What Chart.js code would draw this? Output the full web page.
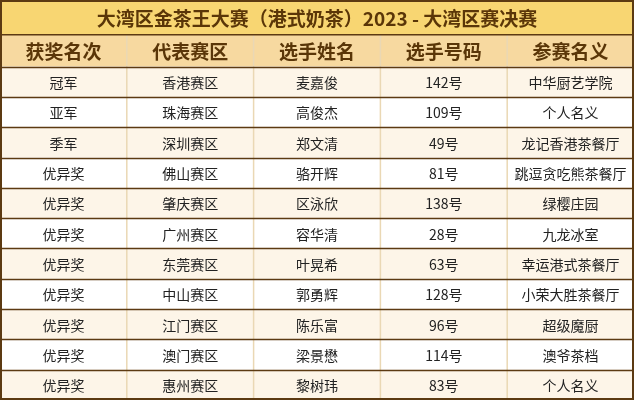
<!DOCTYPE html>
<html>
<head>
<meta charset="utf-8">
<script src="https://cdn.jsdelivr.net/npm/chart.js@4"></script>
<style>body{margin:0;background:#fff}</style>
</head>
<body>
<canvas id="c" width="634" height="400"></canvas>
<script>
const title = '大湾区金茶王大赛（港式奶茶）2023 - 大湾区赛决赛';
const headers = ['获奖名次', '代表赛区', '选手姓名', '选手号码', '参赛名义'];
const ranks = ['冠军','亚军','季军','优异奖','优异奖','优异奖','优异奖','优异奖','优异奖','优异奖','优异奖'];
const regions = ['香港赛区','珠海赛区','深圳赛区','佛山赛区','肇庆赛区','广州赛区','东莞赛区','中山赛区','江门赛区','澳门赛区','惠州赛区'];
const names = ['麦嘉俊','高俊杰','郑文清','骆开辉','区泳欣','容华清','叶晃希','郭勇辉','陈乐富','梁景懋','黎树玮'];
const numbers = [142,109,49,81,138,28,63,128,96,114,83];
const teams = ['中华厨艺学院','个人名义','龙记香港茶餐厅','跳逗贪吃熊茶餐厅','绿樱庄园','九龙冰室','幸运港式茶餐厅','小荣大胜茶餐厅','超级魔厨','澳爷茶档','个人名义'];

const columns = [ranks, regions, names, numbers.map(n => n + '号'), teams];
const TITLE_H = 1.15, HEAD_H = 1.05;
const FONT = '"Noto Sans CJK SC", sans-serif';

const tablePlugin = {
  id: 'table',
  afterDraw(chart) {
    const ctx = chart.ctx, xs = chart.scales.x, ys = chart.scales.y;
    const X = v => xs.getPixelForValue(v), Y = v => ys.getPixelForValue(v);
    ctx.save();
    ctx.textAlign = 'center';
    ctx.textBaseline = 'middle';
    // title
    ctx.fillStyle = '#f8d672';
    ctx.fillRect(X(0), Y(0), X(5) - X(0), Y(TITLE_H) - Y(0));
    ctx.fillStyle = '#5a3608';
    ctx.font = 'bold 19px ' + FONT;
    ctx.fillText(title, (X(0) + X(5)) / 2, (Y(0) + Y(TITLE_H)) / 2 + 1);
    // header
    const h0 = TITLE_H, h1 = TITLE_H + HEAD_H;
    ctx.fillStyle = '#f7d9a0';
    ctx.fillRect(X(0), Y(h0), X(5) - X(0), Y(h1) - Y(h0));
    ctx.fillStyle = '#5a3608';
    ctx.font = 'bold 19px ' + FONT;
    headers.forEach((h, i) => ctx.fillText(h, (X(i) + X(i + 1)) / 2, (Y(h0) + Y(h1)) / 2 + 1));
    // rows
    ranks.forEach((r, j) => {
      const r0 = h1 + j, r1 = h1 + j + 1;
      ctx.fillStyle = j % 2 === 0 ? '#fdf5e8' : '#ffffff';
      ctx.fillRect(X(0), Y(r0), X(5) - X(0), Y(r1) - Y(r0));
      ctx.fillStyle = '#222';
      ctx.font = '14px ' + FONT;
      columns.forEach((col, i) => ctx.fillText(col[j], (X(i) + X(i + 1)) / 2, (Y(r0) + Y(r1)) / 2 + 1));
    });
    // vertical lines
    ctx.strokeStyle = '#ead8b4';
    ctx.lineWidth = 1.5;
    for (let i = 1; i < 5; i++) {
      ctx.beginPath();
      ctx.moveTo(X(i), Y(h0));
      ctx.lineTo(X(i), Y(h1 + ranks.length));
      ctx.stroke();
    }
    // horizontal lines
    ctx.strokeStyle = '#5c3a12';
    ctx.lineWidth = 1.5;
    for (let j = 0; j <= ranks.length; j++) {
      const y = Math.round(Y(h1 + j)) + 0.5;
      ctx.beginPath();
      ctx.moveTo(X(0), y);
      ctx.lineTo(X(5), y);
      ctx.stroke();
    }
    ctx.beginPath();
    ctx.moveTo(X(0), Y(h0));
    ctx.lineTo(X(5), Y(h0));
    ctx.stroke();
    // outer frame
    ctx.lineWidth = 2;
    ctx.strokeRect(X(0) + 1, Y(0) + 1, X(5) - X(0) - 2, Y(h1 + ranks.length) - Y(0) - 2);
    ctx.restore();
  }
};

new Chart(document.getElementById('c'), {
  type: 'scatter',
  data: { datasets: [{ data: [] }] },
  options: {
    responsive: false,
    animation: false,
    layout: { padding: 0 },
    plugins: { legend: { display: false }, tooltip: { enabled: false } },
    scales: {
      x: { type: 'linear', min: 0, max: 5, display: false },
      y: { type: 'linear', min: 0, max: TITLE_H + HEAD_H + ranks.length, reverse: true, display: false }
    }
  },
  plugins: [tablePlugin]
});
</script>
</body>
</html>
